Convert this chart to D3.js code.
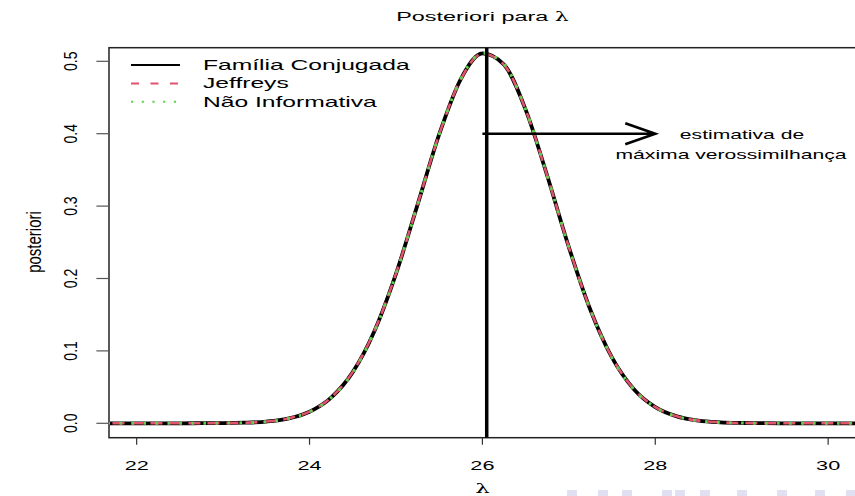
<!DOCTYPE html>
<html>
<head>
<meta charset="utf-8">
<script src="https://d3js.org/d3.v7.min.js"></script>
<style>
  html, body { margin: 0; padding: 0; background: #fff; }
  svg { display: block; font-family: 'Liberation Sans', Arial, sans-serif; }
</style>
</head>
<body>
<svg id="chart" width="855" height="496"></svg>
<script>
// values
const lambdaGrid = [21.5, 21.75, 22, 22.25, 22.5, 22.75, 23, 23.25, 23.5, 23.75, 24, 24.25, 24.5, 24.75,
  25, 25.25, 25.5, 25.75, 26, 26.25, 26.5, 26.75, 27, 27.25, 27.5, 27.75,
  28, 28.25, 28.5, 28.75, 29, 29.25, 29.5, 29.75, 30, 30.25, 30.5];
const conjugada = [0, 0, 0, 0, 0, 0.0001, 0.0002, 0.0008, 0.0024, 0.0065, 0.016, 0.0355, 0.0707, 0.1272,
  0.2064, 0.3021, 0.399, 0.4754, 0.5109, 0.4954, 0.4333, 0.3419, 0.2434, 0.1564, 0.0906, 0.0474,
  0.0223, 0.0095, 0.0036, 0.0013, 0.0004, 0.0001, 0, 0, 0, 0, 0];
const jeffreys = [0, 0, 0, 0, 0, 0.0001, 0.0002, 0.0008, 0.0024, 0.0066, 0.0161, 0.0357, 0.071, 0.1276,
  0.2068, 0.3024, 0.3991, 0.4752, 0.5106, 0.4951, 0.4331, 0.3418, 0.2434, 0.1566, 0.0908, 0.0476,
  0.0224, 0.0096, 0.0037, 0.0013, 0.0004, 0.0001, 0, 0, 0, 0, 0];
const naoInformativa = [0, 0, 0, 0, 0, 0.0001, 0.0002, 0.0008, 0.0023, 0.0064, 0.0158, 0.0352, 0.0703, 0.1268,
  0.206, 0.3018, 0.3989, 0.4756, 0.5112, 0.4957, 0.4335, 0.342, 0.2433, 0.1562, 0.0904, 0.0472,
  0.0222, 0.0094, 0.0036, 0.0012, 0.0004, 0.0001, 0, 0, 0, 0, 0];
const xTicks = [22, 24, 26, 28, 30];
const yTicks = [0, 0.1, 0.2, 0.3, 0.4, 0.5];
const legendLabels = ['Família Conjugada', 'Jeffreys', 'Não Informativa'];
const mle = 26.05;
// faint slide navigation marks at the bottom right of the screenshot
const navMarks = [567, 598, 622, 662, 675, 700, 737, 777, 815, 846];

const SX = 1.76;  // horizontal text in the reference is stretched sideways
const SXR = 1.35; // rotated text less so
const svg = d3.select('#chart');

const x = d3.scaleLinear().domain([21.68, 30.32]).range([109, 855.8]);
const y = d3.scaleLinear().domain([-0.0199, 0.5188]).range([437.7, 47.7]);

function txt(g, px, py, str, size, anchor, rot) {
  return g.append('text')
    .attr('transform', `translate(${px},${py})` + (rot ? ` scale(${SXR},1) rotate(-90)` : ` scale(${SX},1)`))
    .attr('text-anchor', anchor || 'middle')
    .attr('font-size', size)
    .attr('fill', '#000')
    .text(str);
}

svg.append('clipPath').attr('id', 'plotclip')
  .append('rect')
  .attr('x', x.range()[0]).attr('y', y.range()[1])
  .attr('width', x.range()[1] - x.range()[0]).attr('height', y.range()[0] - y.range()[1]);

// box
svg.append('rect')
  .attr('x', x.range()[0]).attr('y', y.range()[1])
  .attr('width', x.range()[1] - x.range()[0]).attr('height', y.range()[0] - y.range()[1])
  .attr('fill', 'none').attr('stroke', '#222').attr('stroke-width', 1.5);

// x axis
const xAxis = svg.append('g');
xTicks.forEach(t => {
  xAxis.append('line').attr('x1', x(t)).attr('x2', x(t))
    .attr('y1', y.range()[0]).attr('y2', y.range()[0] + 7)
    .attr('stroke', '#333').attr('stroke-width', 1.2);
  txt(xAxis, x(t), 470, t, 12.3);
});

// y axis
const yAxis = svg.append('g');
yTicks.forEach(t => {
  yAxis.append('line').attr('x1', x.range()[0] - 12.6).attr('x2', x.range()[0])
    .attr('y1', y(t)).attr('y2', y(t))
    .attr('stroke', '#555').attr('stroke-width', 1.2);
  txt(yAxis, 77, y(t), d3.format('.1f')(t), 14, 'middle', true);
});

// titles
const title = txt(svg, 482.5, 21, 'Posteriori para ', 13.3);
title.append('tspan').attr('font-family', "'DejaVu Serif', serif").attr('font-size', 12.5).text('λ');
txt(svg, 482.5, 493, 'λ', 13, 'middle').attr('font-family', "'DejaVu Serif', serif");
txt(svg, 41, 242, 'posteriori', 15, 'middle', true);

// curves
const line = d3.line()
  .x((d, i) => x(lambdaGrid[i]))
  .y(d => y(d))
  .curve(d3.curveMonotoneX);

const curves = svg.append('g').attr('clip-path', 'url(#plotclip)');
curves.append('path').datum(conjugada).attr('d', line)
  .attr('fill', 'none').attr('stroke', '#000').attr('stroke-width', 3.8);
curves.append('path').datum(jeffreys).attr('d', line)
  .attr('fill', 'none').attr('stroke', '#DF536B').attr('stroke-width', 2.6)
  .attr('stroke-dasharray', '12,7');
curves.append('path').datum(naoInformativa).attr('d', line)
  .attr('fill', 'none').attr('stroke', '#61D04F').attr('stroke-width', 3)
  .attr('stroke-dasharray', '2.6,9.4').attr('stroke-dashoffset', -14);

// MLE line and arrow
curves.append('line')
  .attr('x1', x(mle)).attr('x2', x(mle))
  .attr('y1', y.range()[1]).attr('y2', y.range()[0])
  .attr('stroke', '#000').attr('stroke-width', 3.5);

const ax0 = x(26), ax1 = x(28), ay = y(0.4);
svg.append('path')
  .attr('d', `M${ax0},${ay}L${ax1},${ay}M${ax1 - 30},${ay - 10.5}L${ax1},${ay}L${ax1 - 30},${ay + 10.5}`)
  .attr('fill', 'none').attr('stroke', '#000').attr('stroke-width', 2.6);

txt(svg, 742, 139, 'estimativa de', 12);
txt(svg, 731, 159, 'máxima verossimilhança', 12);

// legend
const legend = svg.append('g');
const legendStyle = [
  { color: '#000', dash: null },
  { color: '#DF536B', dash: '8,11.5' },
  { color: '#61D04F', dash: '2.2,8.5' }
];
legendLabels.forEach((lab, i) => {
  const ly = 65 + i * 18.4;
  legend.append('line')
    .attr('x1', 131).attr('x2', 180).attr('y1', ly).attr('y2', ly)
    .attr('stroke', legendStyle[i].color).attr('stroke-width', 2)
    .attr('stroke-dasharray', legendStyle[i].dash);
  txt(legend, 203, ly + 5, lab, 14, 'start');
});

// navigation marks
svg.append('g').selectAll('rect').data(navMarks).join('rect')
  .attr('x', d => d).attr('y', 490).attr('width', 10).attr('height', 6)
  .attr('fill', '#e0e0f2');
</script>
</body>
</html>
